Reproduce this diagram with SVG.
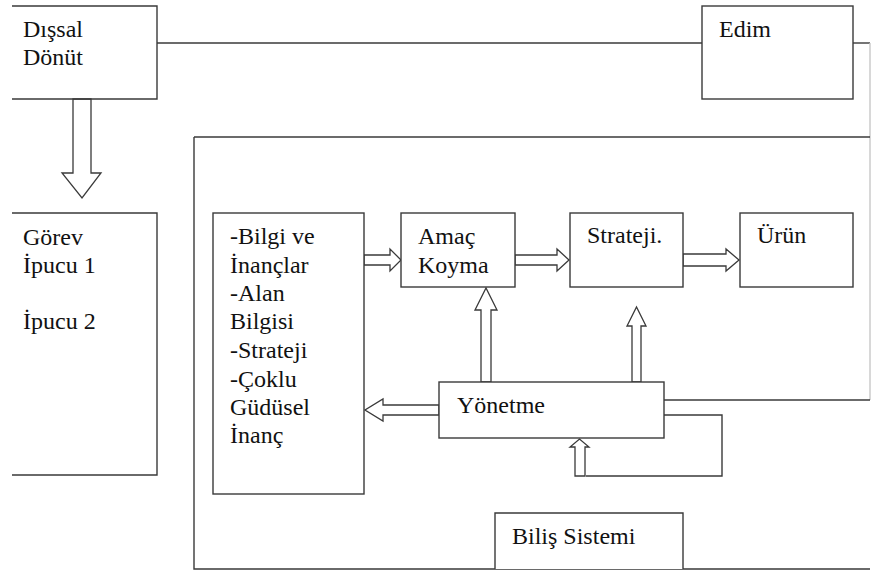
<svg xmlns="http://www.w3.org/2000/svg" width="871" height="572" viewBox="0 0 871 572">
<style>
  .ln{fill:none;stroke:#3a3a3a;stroke-width:1.4}
  .lt{fill:none;stroke:#c8c8c8;stroke-width:1.4}
  .bx{fill:#fff;stroke:#3a3a3a;stroke-width:1.4}
  .ar{fill:#fff;stroke:#3a3a3a;stroke-width:1.3;stroke-linejoin:miter}
</style>
<rect width="871" height="572" fill="#fff"/>
<g id="connectors">
  <path class="ln" d="M157,43 H702"/>
  <path class="ln" d="M853,43 H870"/>
  <path class="lt" d="M870,43 V400"/>
  <path class="ln" d="M664,400 H870"/>
  <path class="ln" d="M194,137 H870"/>
  <path class="ln" d="M664,415 H722 V476 H586"/>
  <polygon class="ar" points="73,99 73,173 62,173 82,198 101,173 91,173 91,99"/>
  <polygon class="ar" points="364,255 390,255 390,249 401,260 390,271 390,265 364,265"/>
  <polygon class="ar" points="515,255 557,255 557,249 569,260 557,271 557,265 515,265"/>
  <polygon class="ar" points="683,254 726,254 726,249 739,260 726,271 726,266 683,266"/>
  <polygon class="ar" points="481,382 481,310 475,310 486,288 497,310 491,310 491,382"/>
  <polygon class="ar" points="632,382 632,326 627,326 636.5,307 646,326 641,326 641,382"/>
  <polygon class="ar" points="439,405 383,405 383,399 365,410 383,421 383,415 439,415"/>
  <polygon class="ar" points="575,476 575,447 570,447 579.5,439 589,447 585,447 585,476"/>
</g>
<g id="bilis-sistemi-container">
  <path class="ln" d="M194,137 V569 H870"/>
</g>
<g id="dissal-donut">
  <path class="ln" d="M12,6 H157 V99 H12"/>
  <text font-family="Liberation Serif" font-size="24" fill="#111" x="23" y="37">Dışsal</text>
  <text font-family="Liberation Serif" font-size="24" fill="#111" x="23" y="65">Dönüt</text>
</g>
<g id="edim">
  <rect class="bx" x="702" y="6" width="151" height="93"/>
  <text font-family="Liberation Serif" font-size="24" fill="#111" x="719" y="37">Edim</text>
</g>
<g id="gorev">
  <path class="ln" d="M12,213 H157 V475 H12"/>
  <text font-family="Liberation Serif" font-size="24" fill="#111" x="23" y="245">Görev</text>
  <text font-family="Liberation Serif" font-size="24" fill="#111" x="23" y="273">İpucu 1</text>
  <text font-family="Liberation Serif" font-size="24" fill="#111" x="23" y="329">İpucu 2</text>
</g>
<g id="bilgi">
  <rect class="bx" x="213" y="213" width="151" height="281"/>
  <text font-family="Liberation Serif" font-size="24" fill="#111" x="230" y="244">-Bilgi ve</text>
  <text font-family="Liberation Serif" font-size="24" fill="#111" x="230" y="273">İnançlar</text>
  <text font-family="Liberation Serif" font-size="24" fill="#111" x="230" y="301">-Alan</text>
  <text font-family="Liberation Serif" font-size="24" fill="#111" x="230" y="329">Bilgisi</text>
  <text font-family="Liberation Serif" font-size="24" fill="#111" x="230" y="358">-Strateji</text>
  <text font-family="Liberation Serif" font-size="24" fill="#111" x="230" y="387">-Çoklu</text>
  <text font-family="Liberation Serif" font-size="24" fill="#111" x="230" y="415">Güdüsel</text>
  <text font-family="Liberation Serif" font-size="24" fill="#111" x="230" y="443">İnanç</text>
</g>
<g id="amac-koyma">
  <rect class="bx" x="401" y="213" width="114" height="74"/>
  <text font-family="Liberation Serif" font-size="24" fill="#111" x="418" y="244">Amaç</text>
  <text font-family="Liberation Serif" font-size="24" fill="#111" x="418" y="273">Koyma</text>
</g>
<g id="strateji">
  <rect class="bx" x="570" y="213" width="113" height="74"/>
  <text font-family="Liberation Serif" font-size="24" fill="#111" x="587" y="243">Strateji.</text>
</g>
<g id="urun">
  <rect class="bx" x="740" y="213" width="113" height="74"/>
  <text font-family="Liberation Serif" font-size="24" fill="#111" x="757" y="243">Ürün</text>
</g>
<g id="yonetme">
  <rect class="bx" x="439" y="382" width="225" height="56"/>
  <text font-family="Liberation Serif" font-size="24" fill="#111" x="457" y="413">Yönetme</text>
</g>
<g id="bilis-sistemi">
  <path class="bx" d="M495,569 V513 H683 V569"/>
  <text font-family="Liberation Serif" font-size="24" fill="#111" x="512" y="544">Biliş Sistemi</text>
</g>
</svg>
